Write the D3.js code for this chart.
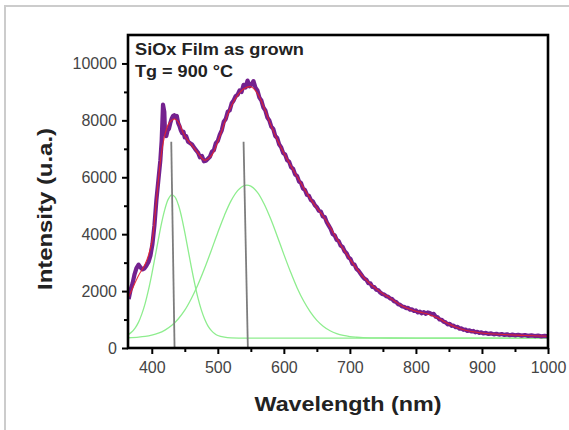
<!DOCTYPE html>
<html>
<head>
<meta charset="utf-8">
<script src="https://cdn.jsdelivr.net/npm/d3@7"></script>
<style>
  html, body { margin: 0; padding: 0; background: #fff; }
  svg { display: block; font-family: Arial, "Liberation Sans", sans-serif; }
</style>
</head>
<body>
<svg id="chart" width="569" height="430"></svg>
<script>
// axis ticks
var xTicks = [400, 500, 600, 700, 800, 900, 1000];
var xMinor = [450, 550, 650, 750, 850, 950];
var yTicks = [0, 2000, 4000, 6000, 8000, 10000];
var yMinor = [1000, 3000, 5000, 7000, 9000];

// measured PL spectrum, [nm, counts]
var measured = [
  [365,1720],[368,2050],[371,2280],[374,2600],[377,2820],[380,2930],[383,2830],[386,2760],
  [389,2800],[392,2900],[395,3020],[398,3250],[401,3650],[404,4300],[407,5200],[410,5900],
  [413,6600],[415,7300],[417,8550],[419,8300],[420,7600],[422,7450],[424,7650],[426,7700],
  [428,7900],[430,8050],[432,8150],[434,8180],[436,8100],[438,8150],[440,7900],[442,7800],
  [444,7650],[446,7550],[448,7600],[450,7400],[452,7450],[455,7250],[458,7200],[461,7150],
  [464,7050],[467,6950],[470,6870],[473,6700],[476,6750],[479,6560],[482,6580],[485,6650],
  [488,6720],[491,6900],[494,6950],[497,7200],[500,7280],[503,7500],[506,7650],[509,7950],
  [512,8050],[515,8300],[518,8350],[521,8600],[524,8700],[527,8850],[530,8900],[533,9050],
  [536,9000],[539,9250],[542,9150],[545,9400],[548,9200],[551,9250],[554,9380],[557,9150],
  [560,9050],[563,8800],[566,8700],[569,8450],[572,8350],[575,8100],[578,8000],[581,7780],
  [584,7700],[587,7450],[590,7380],[593,7150],[596,7050],[599,6850],[602,6800],[605,6600],
  [608,6550],[611,6350],[614,6300],[617,6100],[620,6050],[623,5850],[626,5800],[629,5600],
  [632,5550],[635,5380],[638,5350],[641,5200],[644,5150],[647,5020],[650,4950],[653,4820],
  [656,4800],[659,4620],[662,4600],[665,4420],[668,4300],[671,4180],[674,4000],[677,3960],
  [680,3800],[683,3760],[686,3600],[689,3550],[692,3400],[695,3330],[698,3180],[701,3130],
  [704,2950],[707,2930],[710,2780],[713,2720],[716,2620],[719,2520],[722,2440],[725,2400],
  [728,2280],[731,2270],[734,2150],[737,2140],[740,2050],[743,2030],[746,1950],[749,1900],
  [752,1880],[755,1820],[758,1800],[761,1740],[764,1720],[767,1640],[770,1620],[773,1540],
  [776,1520],[779,1460],[782,1450],[785,1400],[788,1410],[791,1350],[794,1360],[797,1300],
  [800,1320],[803,1250],[806,1280],[809,1220],[812,1260],[815,1200],[818,1250],[821,1230],
  [824,1180],[827,1200],[830,1100],[833,1080],[836,1000],[839,990],[842,920],[845,900],
  [848,830],[851,850],[854,780],[857,790],[860,730],[863,740],[866,680],[869,690],
  [872,640],[875,650],[878,600],[881,620],[884,580],[887,600],[890,550],[893,570],
  [896,530],[899,550],[902,510],[906,530],[910,495],[914,515],[918,480],[922,500],
  [926,470],[930,490],[934,460],[938,480],[942,450],[946,470],[950,445],[955,465],
  [960,435],[965,455],[970,425],[975,445],[980,420],[985,435],[990,410],[995,425],[1000,405]
];

// cumulative fit
var fitCurve = [
  [365,1800],[370,2050],[380,2550],[390,2950],[400,3700],[405,4700],[410,5900],[415,6900],
  [420,7500],[425,7850],[430,8000],[435,8050],[440,7950],[450,7450],[460,7150],[470,6850],
  [480,6600],[490,6750],[500,7250],[510,7900],[520,8480],[530,8880],[540,9120],[550,9180],
  [560,8950],[570,8450],[580,7850],[590,7320],[600,6850],[610,6430],[620,6030],[630,5630],
  [640,5250],[650,4920],[660,4620],[670,4250],[680,3850],[690,3480],[700,3130],[710,2800],
  [720,2510],[730,2270],[740,2080],[750,1910],[760,1770],[770,1610],[780,1470],[790,1370],
  [800,1290],[810,1240],[820,1180],[830,1090],[840,970],[850,840],[860,740],[870,660],
  [880,600],[890,560],[900,525],[920,490],[940,465],[960,445],[980,428],[1000,415]
];

// gaussian components
var peakBlue = [
  [365,480],[370,570],[375,710],[380,910],[385,1200],[390,1570],[395,2040],[400,2590],
  [405,3200],[410,3820],[415,4410],[420,4890],[425,5230],[430,5380],[435,5310],[440,5050],
  [445,4620],[450,4060],[455,3450],[460,2830],[465,2260],[470,1750],[475,1340],[480,1020],
  [485,780],[490,620],[495,510],[500,440],[510,380],[520,355],[540,350],[600,350],
  [700,350],[800,350],[900,350],[1000,350]
];
var peakGreen = [
  [365,360],[380,380],[390,405],[400,450],[410,520],[420,630],[430,790],[440,1020],
  [450,1330],[460,1740],[470,2230],[480,2800],[490,3420],[500,4060],[510,4660],[520,5170],
  [530,5530],[540,5710],[550,5690],[560,5470],[570,5070],[580,4540],[590,3930],[600,3290],
  [610,2680],[620,2120],[630,1650],[640,1270],[650,970],[660,755],[670,605],[680,505],
  [690,440],[700,400],[710,378],[720,363],[740,354],[760,351],[800,350],[900,350],[1000,350]
];

// peak centre markers: [nm at base, nm at top, top intensity]
var markers = [[434.5, 429.5, 7250], [545.5, 539, 7250]];

var notes = ["SiOx Film as grown", "Tg = 900 °C"];

var svg = d3.select("#chart");
var x = d3.scaleLinear().domain([364, 1000]).range([128, 548]);
var y = d3.scaleLinear().domain([0, 11000]).range([348, 35]);

// outer grey frame of the figure
svg.append("path")
    .attr("d", "M5,430V6H569")
    .attr("fill", "none")
    .attr("stroke", "#cccccc")
    .attr("stroke-width", 2);

svg.append("clipPath")
    .attr("id", "plot-clip")
  .append("rect")
    .attr("x", x(364))
    .attr("y", y(11000))
    .attr("width", x(1000) - x(364))
    .attr("height", y(0) - y(11000));

var plot = svg.append("g").attr("clip-path", "url(#plot-clip)");

var line = d3.line()
    .x(function(d) { return x(d[0]); })
    .y(function(d) { return y(d[1]); });
var smooth = d3.line()
    .curve(d3.curveCatmullRom)
    .x(function(d) { return x(d[0]); })
    .y(function(d) { return y(d[1]); });

// gaussians
[peakBlue, peakGreen].forEach(function(p) {
    plot.append("path")
        .datum(p)
        .attr("d", smooth)
        .attr("fill", "none")
        .attr("stroke", "#8eed8e")
        .attr("stroke-width", 1.3);
});

// peak positions
plot.selectAll("line.marker")
    .data(markers)
  .enter().append("line")
    .attr("class", "marker")
    .attr("x1", function(d) { return x(d[0]); })
    .attr("y1", y(0))
    .attr("x2", function(d) { return x(d[1]); })
    .attr("y2", function(d) { return y(d[2]); })
    .attr("stroke", "#7d7d7d")
    .attr("stroke-width", 1.8);

// data
plot.append("path")
    .datum(measured)
    .attr("d", line)
    .attr("fill", "none")
    .attr("stroke", "#74218f")
    .attr("stroke-width", 4.2)
    .attr("stroke-linejoin", "round");

// fit
plot.append("path")
    .datum(fitCurve)
    .attr("d", smooth)
    .attr("fill", "none")
    .attr("stroke", "#e8242a")
    .attr("stroke-width", 1.1)
    .attr("stroke-opacity", 0.9);

// axes
function styleAxis(g, size) {
    g.attr("font-family", null).attr("font-size", null);
    g.select(".domain").remove();
    g.selectAll("line").attr("stroke", "#000").attr("stroke-width", 2);
    g.selectAll("text")
        .attr("font-size", size)
        .attr("fill", "#444");
}

var fmt = d3.format("d");

var gx = svg.append("g")
    .attr("transform", "translate(0," + y(0) + ")")
    .call(d3.axisBottom(x).tickValues(xTicks).tickSize(6).tickPadding(8).tickFormat(fmt));
styleAxis(gx, 16);
var gxm = svg.append("g")
    .attr("transform", "translate(0," + y(0) + ")")
    .call(d3.axisBottom(x).tickValues(xMinor).tickSize(4).tickFormat(""));
styleAxis(gxm, 16);

var gy = svg.append("g")
    .attr("transform", "translate(" + x(364) + ",0)")
    .call(d3.axisLeft(y).tickValues(yTicks).tickSize(6).tickPadding(5).tickFormat(fmt));
styleAxis(gy, 16);
var gym = svg.append("g")
    .attr("transform", "translate(" + x(364) + ",0)")
    .call(d3.axisLeft(y).tickValues(yMinor).tickSize(4).tickFormat(""));
styleAxis(gym, 16);

// plot frame
svg.append("rect")
    .attr("x", x(364))
    .attr("y", y(11000))
    .attr("width", x(1000) - x(364))
    .attr("height", y(0) - y(11000))
    .attr("fill", "none")
    .attr("stroke", "#000")
    .attr("stroke-width", 2.6);

// annotation
svg.selectAll("text.note")
    .data(notes)
  .enter().append("text")
    .attr("class", "note")
    .attr("x", 135)
    .attr("y", function(d, i) { return 55 + i * 22; })
    .attr("font-size", 16)
    .attr("font-weight", "bold")
    .attr("fill", "#222")
    .attr("textLength", function(d, i) { return i ? 98 : 169; })
    .attr("lengthAdjust", "spacingAndGlyphs")
    .text(function(d) { return d; });

// axis titles
svg.append("text")
    .attr("x", 348)
    .attr("y", 411)
    .attr("text-anchor", "middle")
    .attr("font-size", 20)
    .attr("font-weight", "bold")
    .attr("fill", "#222")
    .attr("textLength", 187)
    .attr("lengthAdjust", "spacingAndGlyphs")
    .text("Wavelength (nm)");

svg.append("text")
    .attr("transform", "translate(52,209) rotate(-90)")
    .attr("text-anchor", "middle")
    .attr("font-size", 20)
    .attr("font-weight", "bold")
    .attr("fill", "#222")
    .attr("textLength", 162)
    .attr("lengthAdjust", "spacingAndGlyphs")
    .text("Intensity (u.a.)");
</script>
</body>
</html>
